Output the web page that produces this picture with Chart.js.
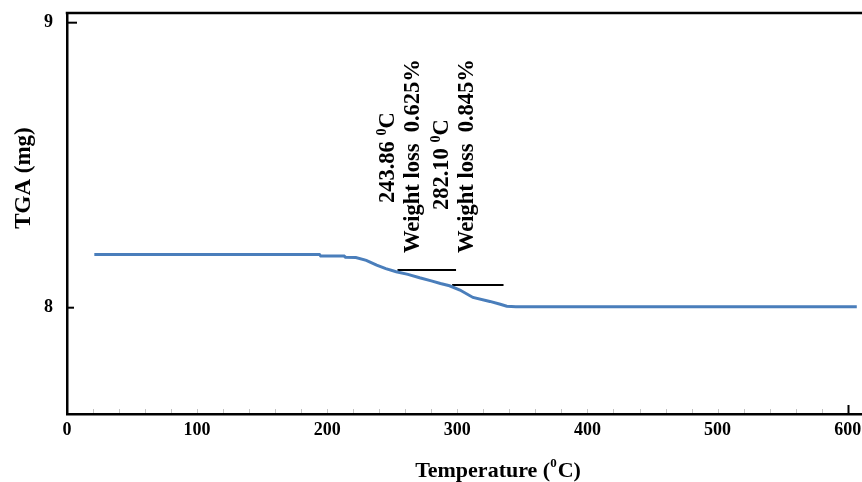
<!DOCTYPE html>
<html><head><meta charset="utf-8">
<script src="https://cdn.jsdelivr.net/npm/chart.js@4.4.1/dist/chart.umd.min.js"></script>
<style>html,body{margin:0;padding:0;background:#fff}#wrap{width:862px;height:482px;position:relative}</style>
</head><body><div id="wrap"><canvas id="c"></canvas></div>
<script>
// ---- data ----
const temperatureC = [21, 100, 194, 195, 213, 214, 222, 230, 238, 245, 253, 262, 271, 280, 287, 294, 302, 312, 325, 333, 338, 345, 450, 607];
const massMg = [8.187, 8.187, 8.187, 8.181, 8.181, 8.177, 8.176, 8.166, 8.149, 8.137, 8.126, 8.117, 8.105, 8.094, 8.085, 8.077, 8.062, 8.036, 8.022, 8.012, 8.005, 8.003, 8.003, 8.003];
const stepStartC = [254, 296];
const stepEndC = [299, 335.5];
const stepMassMg = [8.132, 8.080];
const onsetLabels = ['243.86', '282.10'];
const lossLabels = ['Weight loss  0.625%', 'Weight loss  0.845%'];
const xTickValues = [0, 20, 40, 60, 80, 100, 120, 140, 160, 180, 200, 220, 240, 260, 280, 300, 320, 340, 360, 380, 400, 420, 440, 460, 480, 500, 520, 540, 560, 580, 600];
const xLabelValues = [0, 100, 200, 300, 400, 500, 600];
const yTickValues = [8, 9];
const xTitle = ['Temperature (', '0', 'C)'];
const yTitle = 'TGA (mg)';

const SERIF = "'Liberation Serif', 'Times New Roman', serif";

function vtext(ctx, parts, cx, yStart) {
  ctx.save();
  ctx.translate(cx, yStart);
  ctx.rotate(-Math.PI / 2);
  ctx.textBaseline = 'middle';
  ctx.textAlign = 'left';
  ctx.fillStyle = '#000';
  let off = 0;
  parts.forEach(p => {
    ctx.font = p.font;
    ctx.fillText(p.t, off, p.dy || 0);
    off += ctx.measureText(p.t).width;
  });
  ctx.restore();
}

const decor = {
  id: 'decor',
  afterDraw(chart) {
    const ctx = chart.ctx, a = chart.chartArea, x = chart.scales.x, y = chart.scales.y;
    ctx.save();
    // top frame line
    ctx.strokeStyle = '#000'; ctx.lineWidth = 2.5;
    ctx.beginPath(); ctx.moveTo(a.left - 1.25, a.top); ctx.lineTo(chart.width, a.top); ctx.stroke();
    // x ticks (inward)
    xTickValues.forEach(v => {
      if (v === 0) return;
      const px = Math.round(x.getPixelForValue(v)) + 0.5;
      const major = v === 600;
      ctx.strokeStyle = major ? '#000' : '#c4c4c4';
      ctx.lineWidth = major ? 2 : 1;
      ctx.beginPath(); ctx.moveTo(px, a.bottom - 1); ctx.lineTo(px, a.bottom - (major ? 9 : 5)); ctx.stroke();
    });
    // y ticks (inward)
    yTickValues.forEach(v => {
      const py = y.getPixelForValue(v);
      ctx.strokeStyle = '#000'; ctx.lineWidth = 2;
      ctx.beginPath(); ctx.moveTo(a.left, py); ctx.lineTo(a.left + (v === 9 ? 10 : 7), py); ctx.stroke();
    });
    // x title
    ctx.fillStyle = '#000';
    ctx.textBaseline = 'alphabetic';
    ctx.textAlign = 'left';
    const big = 'bold 22px ' + SERIF, small = 'bold 13px ' + SERIF;
    ctx.font = big; const w1 = ctx.measureText(xTitle[0]).width, w3 = ctx.measureText(xTitle[2]).width;
    ctx.font = small; const w2 = ctx.measureText(xTitle[1]).width;
    let sx = 498 - (w1 + w2 + w3 + 1) / 2, by = 477;
    ctx.font = big; ctx.fillText(xTitle[0], sx, by); sx += w1;
    ctx.font = small; ctx.fillText(xTitle[1], sx, by - 10); sx += w2 + 1;
    ctx.font = big; ctx.fillText(xTitle[2], sx, by);
    // y title
    ctx.save();
    ctx.translate(24, 178); ctx.rotate(-Math.PI / 2);
    ctx.textAlign = 'center'; ctx.textBaseline = 'middle';
    ctx.font = 'bold 23px ' + SERIF; ctx.fillText(yTitle, 0, 0);
    ctx.restore();
    // annotations next to each step line
    const colStartY = [[203, 253], [210, 253]];
    const af = 'bold 22.5px ' + SERIF;
    stepStartC.forEach((c, i) => {
      const px = x.getPixelForValue(c);
      vtext(ctx, [
        { t: onsetLabels[i] + ' ', font: af },
        { t: '0', font: 'bold 14px ' + SERIF, dy: -6 },
        { t: 'C', font: af }
      ], px - 9.5, colStartY[i][0]);
      vtext(ctx, [{ t: lossLabels[i], font: af }], px + 15.5, colStartY[i][1]);
    });
    ctx.restore();
  }
};

const curve = temperatureC.map((t, i) => ({ x: t, y: massMg[i] }));
const steps = stepStartC.map((c, i) => ({
  data: [{ x: c, y: stepMassMg[i] }, { x: stepEndC[i], y: stepMassMg[i] }],
  borderColor: '#000', borderWidth: 2, pointRadius: 0, tension: 0
}));

const axisFont = { family: SERIF, size: 18, weight: 'bold' };

new Chart(document.getElementById('c'), {
  type: 'line',
  data: {
    datasets: [
      { data: curve, borderColor: '#4A7EBB', borderWidth: 3, pointRadius: 0, tension: 0 },
      ...steps
    ]
  },
  options: {
    responsive: true, maintainAspectRatio: false, animation: false,
    layout: { padding: { top: 13, right: 0, left: 0, bottom: 0 } },
    plugins: { legend: { display: false }, tooltip: { enabled: false } },
    scales: {
      x: {
        type: 'linear', min: 0, max: 611,
        afterBuildTicks: s => { s.ticks = xTickValues.map(v => ({ value: v })); },
        afterFit: s => { s.height = 68; s.paddingLeft = 0; s.paddingRight = 0; },
        grid: { display: false, drawTicks: false },
        border: { display: true, color: '#000', width: 2.5 },
        ticks: { autoSkip: false, maxRotation: 0, padding: 6, color: '#000', font: axisFont,
          callback: v => xLabelValues.includes(v) ? String(v) : '' }
      },
      y: {
        type: 'linear', min: 7.627, max: 9.034,
        afterBuildTicks: s => { s.ticks = yTickValues.map(v => ({ value: v })); },
        afterFit: s => { s.width = 67; s.paddingTop = 0; s.paddingBottom = 0; },
        grid: { display: false, drawTicks: false },
        border: { display: true, color: '#000', width: 2.5 },
        ticks: { padding: 14, color: '#000', font: axisFont, callback: v => String(v) }
      }
    }
  },
  plugins: [decor]
});
</script>
</body></html>
